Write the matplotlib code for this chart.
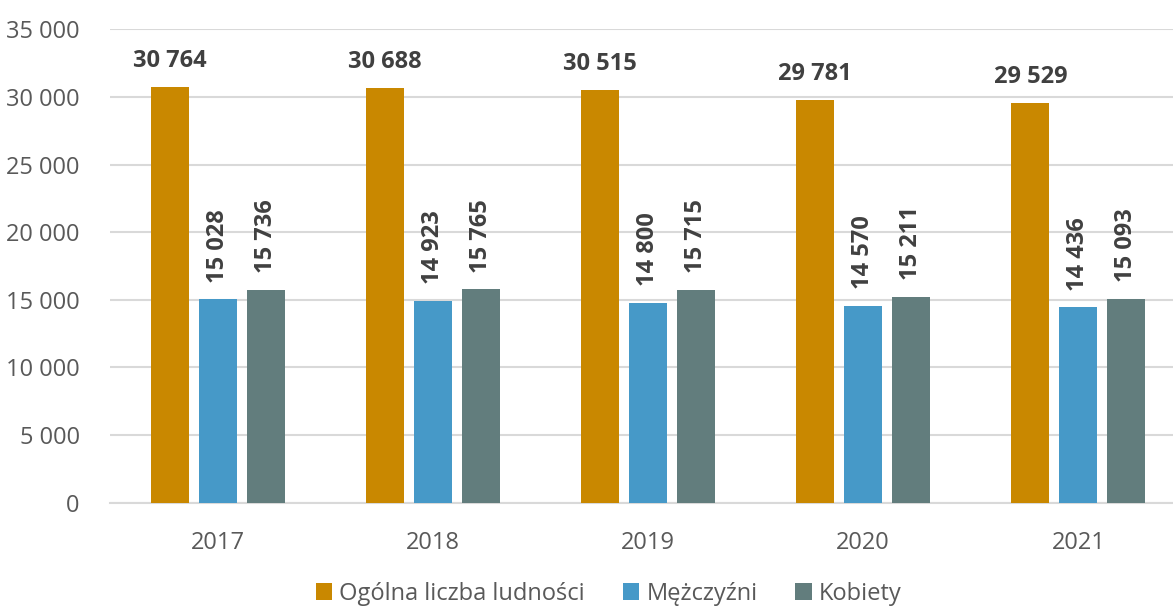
import matplotlib.pyplot as plt
import numpy as np

years = ['2017', '2018', '2019', '2020', '2021']
ogolna = [30764, 30688, 30515, 29781, 29529]
mezczyzni = [15028, 14923, 14800, 14570, 14436]
kobiety = [15736, 15765, 15715, 15211, 15093]

series_names = ['Ogólna liczba ludności', 'Mężczyźni', 'Kobiety']
colors = ['#C98800', '#4699C8', '#627D7D']


def fmt(v):
    return f'{v:,}'.replace(',', ' ')


plt.rcParams['font.family'] = ['Open Sans', 'DejaVu Sans']
fs = 17

fig = plt.figure(figsize=(11.73, 6.08), dpi=100)
ax = fig.add_axes([0.094, 0.173, 0.917, 0.779])

x = np.arange(len(years))
width = 0.177
offset = 0.223

data = [ogolna, mezczyzni, kobiety]
for i, (vals, name, col) in enumerate(zip(data, series_names, colors)):
    pos = x + (i - 1) * offset
    ax.bar(pos, vals, width, color=col, label=name, zorder=3)
    for p, v in zip(pos, vals):
        if i == 0:
            ax.annotate(fmt(v), (p, v), xytext=(0, 10), textcoords='offset points',
                        ha='center', va='bottom', fontsize=fs, fontweight='bold',
                        color='#404040')
        else:
            ax.annotate(fmt(v), (p, v), xytext=(0, 12), textcoords='offset points',
                        ha='center', va='bottom', rotation=90, fontsize=fs,
                        fontweight='bold', color='#404040')

ax.set_xlim(-0.5, len(years) - 0.5)
ax.set_ylim(0, 35000)
ax.set_yticks(range(0, 35001, 5000))
ax.set_yticklabels([fmt(v) for v in range(0, 35001, 5000)])
ax.set_xticks(x)
ax.set_xticklabels(years)
ax.tick_params(axis='both', length=0, labelsize=fs, colors='#595959')
ax.tick_params(axis='x', pad=20)
ax.tick_params(axis='y', pad=22)

ax.grid(axis='y', color='#D9D9D9', linewidth=1.5, zorder=0)
for s in ['top', 'right', 'left']:
    ax.spines[s].set_visible(False)
ax.spines['bottom'].set_color('#D9D9D9')
ax.spines['bottom'].set_linewidth(1.5)

fig.legend(loc='center', bbox_to_anchor=(0.519, 0.023), ncol=3, frameon=False,
           fontsize=fs, labelcolor='#595959', handlelength=0.7, handleheight=0.7,
           handletextpad=0.3, columnspacing=1.6)

fig.savefig('out.png', dpi=100)
